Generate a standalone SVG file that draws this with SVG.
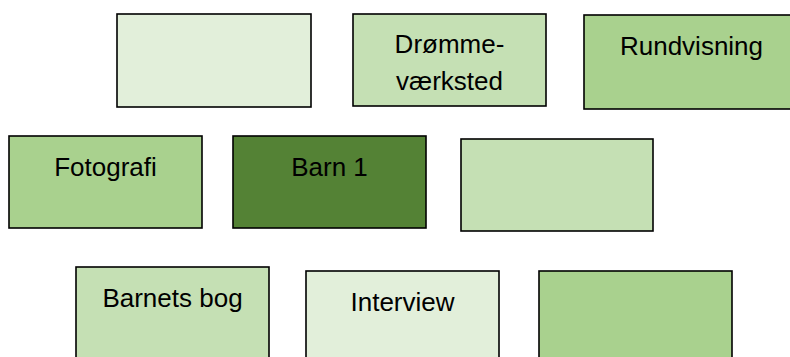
<svg xmlns="http://www.w3.org/2000/svg" width="790" height="357" viewBox="0 0 790 357">
<style>
rect{stroke:#000;stroke-width:1.6}
.l1{fill:#E2EFDA}
.l2{fill:#C5E0B4}
.l3{fill:#A9D18E}
.d{fill:#548235}
text{font-family:"Liberation Sans",Arial,sans-serif;font-size:26px;fill:#000;text-anchor:middle}
</style>
<rect width="790" height="357" fill="#fff" style="stroke:none"/>
<g id="n1"><rect class="l1" x="117" y="14" width="194" height="93"/></g>
<g id="n2"><rect class="l2" x="353" y="14" width="193" height="92"/><text x="449.5" y="53">Drømme-</text><text x="449.5" y="90">værksted</text></g>
<g id="n3"><rect class="l3" x="584" y="15" width="215" height="94"/><text x="691.5" y="55">Rundvisning</text></g>
<g id="n4"><rect class="l3" x="9" y="136" width="193" height="92"/><text x="105.5" y="176">Fotografi</text></g>
<g id="n5"><rect class="d" x="233" y="136" width="193" height="92"/><text x="329.5" y="176">Barn 1</text></g>
<g id="n6"><rect class="l2" x="461" y="139" width="192" height="92"/></g>
<g id="n7"><rect class="l2" x="76" y="267" width="193" height="96"/><text x="172.5" y="307">Barnets bog</text></g>
<g id="n8"><rect class="l1" x="306" y="271" width="193" height="92"/><text x="402.5" y="311">Interview</text></g>
<g id="n9"><rect class="l3" x="539" y="271" width="193" height="92"/></g>
<g id="connectors"></g>
</svg>
